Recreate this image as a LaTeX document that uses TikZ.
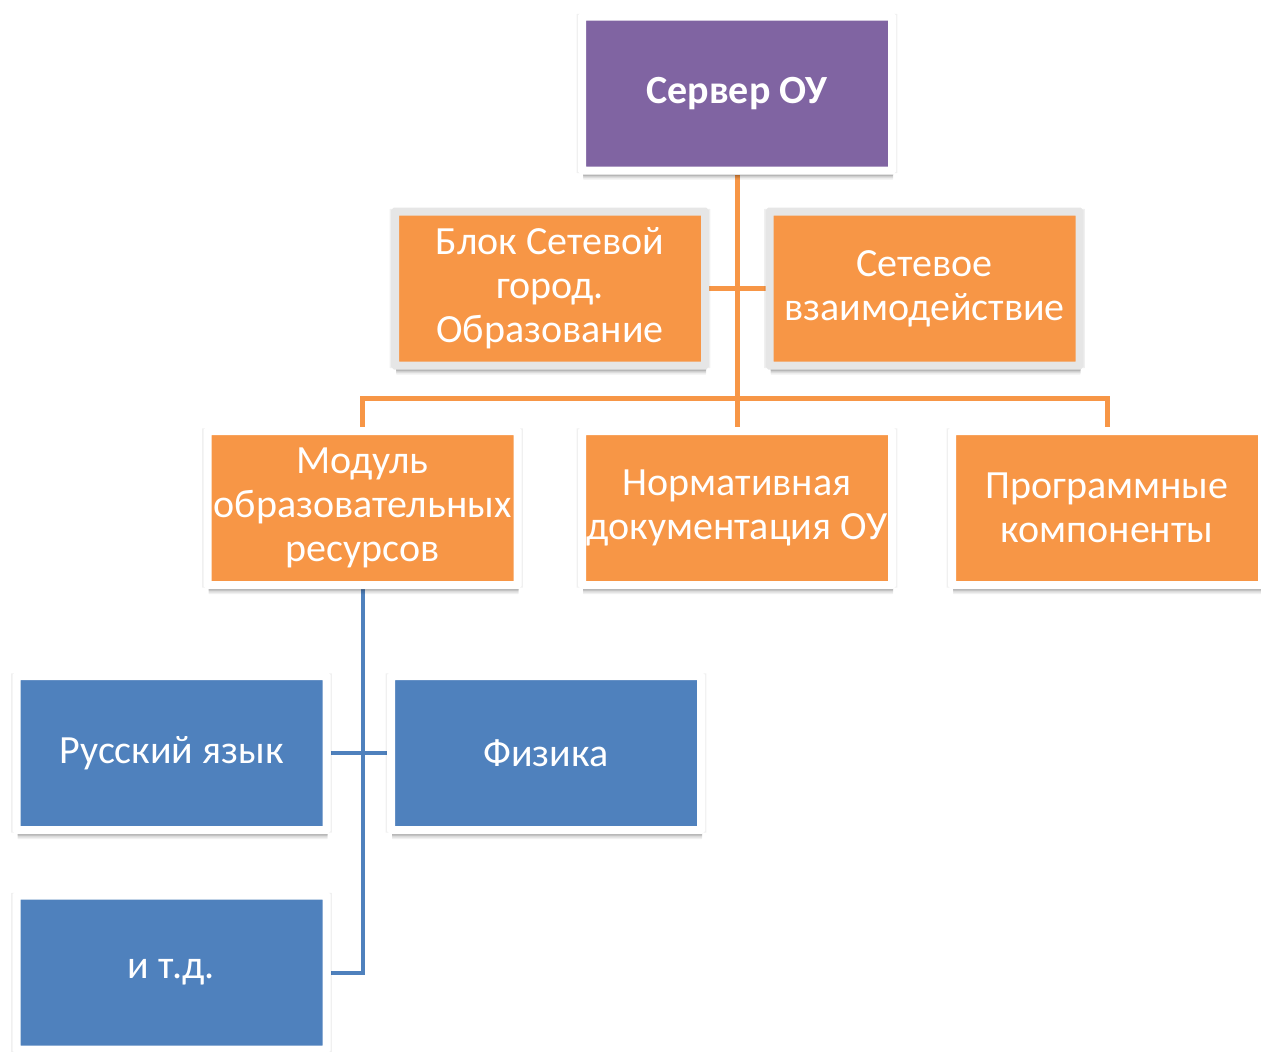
\documentclass[tikz,border=0pt]{standalone}
\usepackage{fontspec}
\setmainfont{Carlito}
\usetikzlibrary{shadows,backgrounds}
\definecolor{cpurple}{HTML}{8064A2}
\definecolor{corange}{HTML}{F79646}
\definecolor{cblue}{HTML}{4F81BD}
\definecolor{cgray}{HTML}{E6E6E6}
\tikzset{
  box/.style={rectangle, minimum width=310pt, minimum height=154pt, line width=8pt,
    draw=white, text=white, align=center, inner sep=0pt, rounded corners=0.5pt,
    font=\fontsize{40}{44}\selectfont,
    general shadow={shadow scale=1.035, opacity=0.06, fill=black},
    drop shadow={shadow xshift=1pt, shadow yshift=-9pt, opacity=0.06, fill=black},
    drop shadow={shadow xshift=1pt, shadow yshift=-7.5pt, opacity=0.08, fill=black},
    drop shadow={shadow xshift=1pt, shadow yshift=-6pt, opacity=0.10, fill=black},
    drop shadow={shadow xshift=1pt, shadow yshift=-5pt, opacity=0.12, fill=black}},
  pbox/.style={box, fill=cpurple, font=\fontsize{40}{44}\selectfont\bfseries},
  obox/.style={box, fill=corange},
  gbox/.style={box, fill=corange, draw=cgray},
  bbox/.style={box, fill=cblue},
  oline/.style={draw=corange, line width=5pt},
  bline/.style={draw=cblue, line width=4pt},
}
\begin{document}
\begin{tikzpicture}[x=1pt,y=-1pt]
\useasboundingbox (0,0) rectangle (1261,1052);
\node[pbox] (srv) at (737,93.5) {Сервер ОУ};
\node[gbox] (blok) at (550,288.5) {Блок Сетевой\\город.\\Образование};
\node[gbox] (set) at (924.5,288.5) {Сетевое\\взаимодействие};
\node[obox] (mod) at (362.5,508) {Модуль\\образовательных\\ресурсов};
\node[obox] (norm) at (737,508) {Нормативная\\документация ОУ};
\node[obox] (prog) at (1107,508) {Программные\\компоненты};
\node[bbox] (rus) at (171.5,753) {Русский язык};
\node[bbox] (fiz) at (546,753) {Физика};
\node[bbox] (etc) at (171.5,972.5) {и т.д.};
\coordinate (bar) at (0,398);
\begin{scope}[on background layer]
\draw[oline] (srv.south) -- (norm.north);
\draw[oline] (blok.east) -- (set.west);
\draw[oline] (mod.north) -- (mod.north |- bar) -- (prog.north |- bar) -- (prog.north);
\draw[bline] (mod.south) |- (etc.east);
\draw[bline] (rus.east) -- (fiz.west);
\end{scope}
\end{tikzpicture}
\end{document}
